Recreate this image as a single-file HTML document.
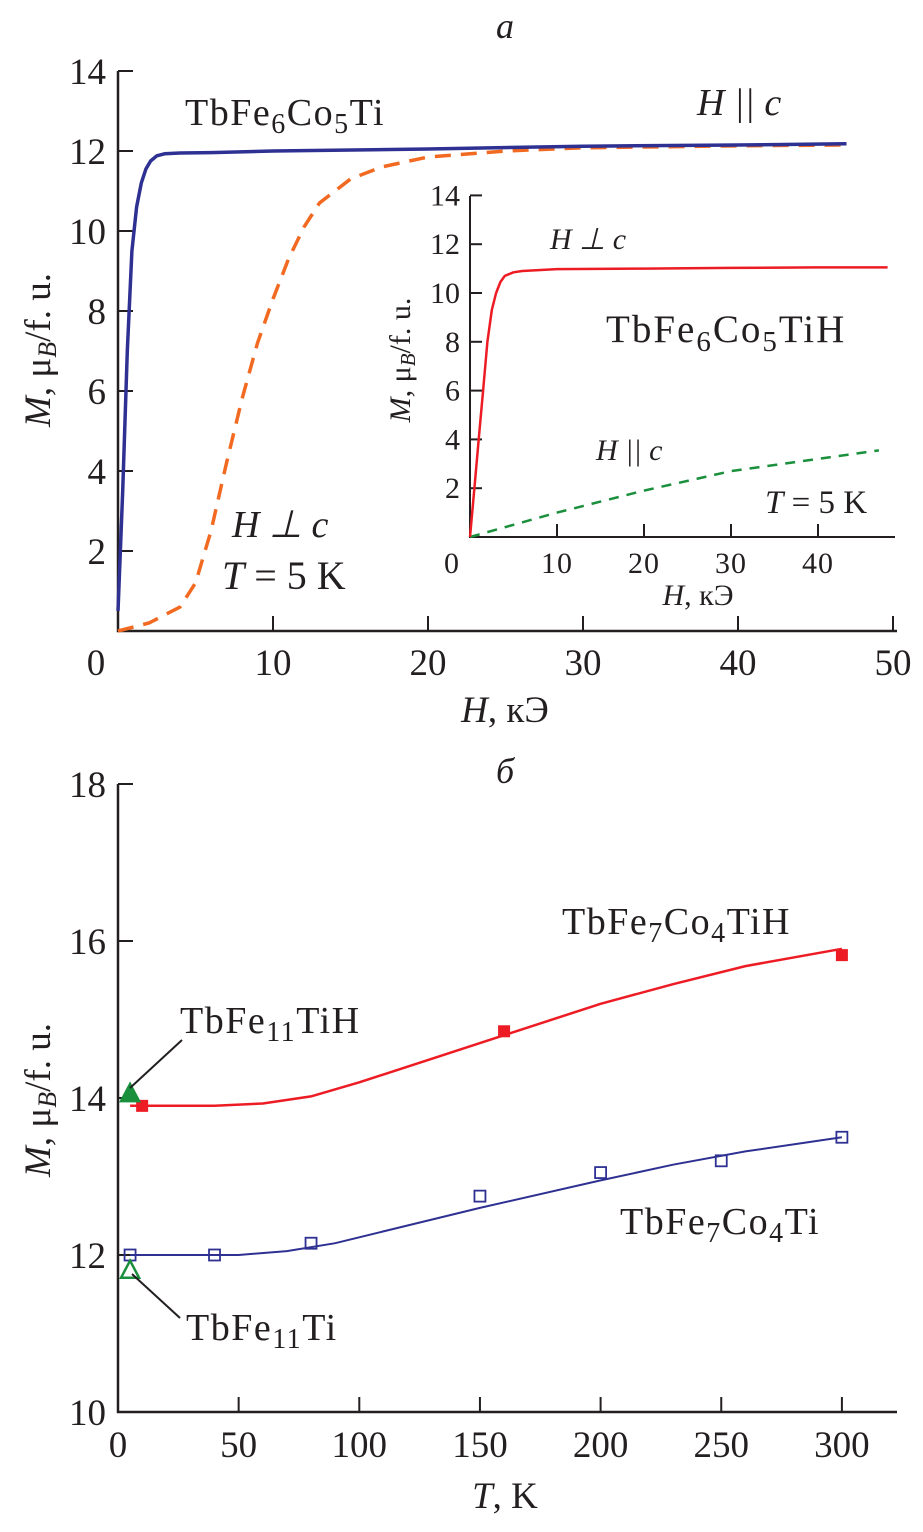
<!DOCTYPE html>
<html><head><meta charset="utf-8"><style>
body{margin:0;background:#fff}
svg text{font-family:"Liberation Serif",serif;fill:#231f20}
</style></head><body>
<svg width="923" height="1527" viewBox="0 0 923 1527">
<g id="top"></g>
<g id="inset"></g>
<g id="bot"></g>
</svg>
<script>
// Panel a data
const aBlueH=[0,0.3,0.6,0.9,1.2,1.5,1.8,2.1,2.5,3,4,6,10,20,30,40,47];
const aBlueM=[0.5,3.5,7,9.5,10.6,11.2,11.55,11.75,11.88,11.93,11.95,11.96,12,12.05,12.12,12.15,12.18];
const aOrangeH=[0,2,4,5,6,7,8,9,10,11,12,13,15,17,20,25,30,40,47];
const aOrangeM=[0,0.2,0.6,1.2,2.5,4.2,5.8,7.2,8.3,9.3,10.1,10.7,11.3,11.6,11.85,12.0,12.08,12.13,12.15];
const aXTicks=[0,10,20,30,40,50];
const aYTicks=[2,4,6,8,10,12,14];
// Inset data
const iRedH=[0,0.5,1,1.5,2,2.5,3,3.5,4,5,6,10,20,30,40,48];
const iRedM=[0,2,4,6,8,9.3,10.0,10.45,10.7,10.85,10.9,10.98,11,11.03,11.05,11.05];
const iGreenH=[0,5,10,15,20,25,30,35,40,47];
const iGreenM=[0,0.5,1,1.45,1.9,2.3,2.7,2.95,3.2,3.55];
const iXTicks=[0,10,20,30,40];
const iYTicks=[2,4,6,8,10,12,14];
// Panel b data
const bRedT=[10,160,300];
const bRedM=[13.9,14.85,15.82];
const bBlueT=[5,40,80,150,200,250,300];
const bBlueM=[12,12,12.15,12.75,13.05,13.2,13.5];
const bRedCurveT=[5,20,40,60,80,100,130,160,200,230,260,300];
const bRedCurveM=[13.9,13.9,13.9,13.93,14.02,14.2,14.5,14.8,15.2,15.45,15.68,15.9];
const bBlueCurveT=[5,20,50,70,90,110,150,200,230,260,300];
const bBlueCurveM=[12,12,12,12.05,12.15,12.3,12.6,12.95,13.15,13.32,13.5];
const bTriFilled=[5,14.05];
const bTriOpen=[5,11.8];
const bXTicks=[0,50,100,150,200,250,300];
const bYTicks=[10,12,14,16,18];

const NS="http://www.w3.org/2000/svg";
function mk(parent,tag,attrs,name,text){const e=document.createElementNS(NS,tag);for(const k in attrs)e.setAttribute(k,attrs[k]);


if(text!==undefined)e.textContent=text;parent.appendChild(e);return e;}
function path(xs,ys,sx,sy){return xs.map((x,i)=>(i?'L':'M')+sx(x).toFixed(1)+','+sy(ys[i]).toFixed(1)).join(' ');}
const LS='letter-spacing';

// Panel a
const T=document.getElementById('top');
const ax=v=>118+v*15.5, ay=v=>631-v*40;
mk(T,'path',{d:`M118,71 V631 H897`,fill:'none',stroke:'#231f20','stroke-width':2.5},'axes-a');
aXTicks.forEach(v=>{if(v>0)mk(T,'line',{x1:ax(v),x2:ax(v),y1:631,y2:616,stroke:'#231f20','stroke-width':2},'x-tick-a');
mk(T,'text',{x:ax(v)-(v?0:22),y:675,'font-size':37,'text-anchor':'middle'},'x-tick-label-a',String(v));});
aYTicks.forEach(v=>{mk(T,'line',{x1:118,x2:133,y1:ay(v),y2:ay(v),stroke:'#231f20','stroke-width':2},'y-tick-a');
mk(T,'text',{x:106,y:ay(v)+13,'font-size':37,'text-anchor':'end'},'y-tick-label-a',String(v));});
mk(T,'path',{d:path(aOrangeH,aOrangeM,ax,ay),fill:'none',stroke:'#f26a21','stroke-width':3.5,'stroke-dasharray':'16,10'},'orange-perp-curve');
mk(T,'path',{d:path(aBlueH,aBlueM,ax,ay),fill:'none',stroke:'#2e3192','stroke-width':3.5,'stroke-linejoin':'round'},'blue-par-curve');
mk(T,'text',{x:505,y:38,'font-size':36,'font-style':'italic','text-anchor':'middle'},'panel-a-label','a');
mk(T,'text',{x:185,y:125,'font-size':38,[LS]:1.5},'label-TbFe6Co5Ti','').innerHTML='TbFe<tspan font-size="28" dy="8">6</tspan><tspan dy="-8">Co</tspan><tspan font-size="28" dy="8">5</tspan><tspan dy="-8">Ti</tspan>';
mk(T,'text',{x:697,y:115,'font-size':38,'font-style':'italic'},'label-h-par-c','H || c');
mk(T,'text',{x:232,y:537,'font-size':38,'font-style':'italic'},'label-h-perp-c','H ⊥ c');
mk(T,'text',{x:222,y:589,'font-size':40},'label-t5k','').innerHTML='<tspan font-style="italic">T</tspan> = 5 K';
mk(T,'text',{x:505,y:722,'font-size':37,'text-anchor':'middle'},'x-axis-title-a','').innerHTML='<tspan font-style="italic">H</tspan>, кЭ';
mk(T,'text',{transform:'translate(50,350) rotate(-90)','font-size':37,'text-anchor':'middle'},'y-axis-title-a','').innerHTML='<tspan font-style="italic">M</tspan>, μ<tspan font-size="26" font-style="italic" dy="6">B</tspan><tspan dy="-6">/f. u.</tspan>';

// Inset
const I=document.getElementById('inset');
const ix=v=>470+v*8.7, iy=v=>537-v*24.4;
mk(I,'path',{d:`M470,196 V537 H895`,fill:'none',stroke:'#231f20','stroke-width':2},'axes-inset');
iXTicks.forEach(v=>{if(v>0)mk(I,'line',{x1:ix(v),x2:ix(v),y1:537,y2:524,stroke:'#231f20','stroke-width':2},'x-tick-inset');
mk(I,'text',{x:ix(v)-(v?0:18),y:573,'font-size':30,'text-anchor':'middle',[LS]:1},'x-tick-label-inset',String(v));});
iYTicks.forEach(v=>{mk(I,'line',{x1:470,x2:482,y1:iy(v),y2:iy(v),stroke:'#231f20','stroke-width':2},'y-tick-inset');
mk(I,'text',{x:460,y:iy(v)+10,'font-size':30,'text-anchor':'end'},'y-tick-label-inset',String(v));});
mk(I,'path',{d:path(iGreenH,iGreenM,ix,iy),fill:'none',stroke:'#1a8f3c','stroke-width':2.5,'stroke-dasharray':'10,8'},'green-par-curve-inset');
mk(I,'path',{d:path(iRedH,iRedM,ix,iy),fill:'none',stroke:'#ed1c24','stroke-width':2.5,'stroke-linejoin':'round'},'red-perp-curve-inset');
mk(I,'text',{x:550,y:249,'font-size':30,'font-style':'italic'},'label-inset-perp','H ⊥ c');
mk(I,'text',{x:596,y:460,'font-size':30,'font-style':'italic'},'label-inset-par','H || c');
mk(I,'text',{x:765,y:513,'font-size':33},'label-inset-t5k','').innerHTML='<tspan font-style="italic">T</tspan> = 5 K';
mk(I,'text',{x:606,y:342,'font-size':39,[LS]:2},'label-TbFe6Co5TiH','').innerHTML='TbFe<tspan font-size="29" dy="9">6</tspan><tspan dy="-9">Co</tspan><tspan font-size="29" dy="9">5</tspan><tspan dy="-9">TiH</tspan>';
mk(I,'text',{x:698,y:605,'font-size':30,'text-anchor':'middle'},'x-axis-title-inset','').innerHTML='<tspan font-style="italic">H</tspan>, кЭ';
mk(I,'text',{transform:'translate(410,360) rotate(-90)','font-size':30,'text-anchor':'middle'},'y-axis-title-inset','').innerHTML='<tspan font-style="italic">M</tspan>, μ<tspan font-size="21" font-style="italic" dy="5">B</tspan><tspan dy="-5">/f. u.</tspan>';

// Panel b
const B=document.getElementById('bot');
const bx=v=>118+v*2.413, by=v=>1412-(v-10)*78.5;
mk(B,'path',{d:`M118,784 V1412 H897`,fill:'none',stroke:'#231f20','stroke-width':2.5},'axes-b');
bXTicks.forEach(v=>{if(v>0)mk(B,'line',{x1:bx(v),x2:bx(v),y1:1412,y2:1397,stroke:'#231f20','stroke-width':2},'x-tick-b');
mk(B,'text',{x:bx(v),y:1457,'font-size':37,'text-anchor':'middle'},'x-tick-label-b',String(v));});
bYTicks.forEach(v=>{if(v>10)mk(B,'line',{x1:118,x2:133,y1:by(v),y2:by(v),stroke:'#231f20','stroke-width':2},'y-tick-b');
mk(B,'text',{x:106,y:by(v)+13,'font-size':37,'text-anchor':'end'},'y-tick-label-b',String(v));});
mk(B,'path',{d:path(bRedCurveT,bRedCurveM,bx,by),fill:'none',stroke:'#ed1c24','stroke-width':2.5},'red-fit-curve');
mk(B,'path',{d:path(bBlueCurveT,bBlueCurveM,bx,by),fill:'none',stroke:'#2e3192','stroke-width':2},'blue-fit-curve');
bRedT.forEach((t,i)=>mk(B,'rect',{x:bx(t)-6,y:by(bRedM[i])-6,width:12,height:12,fill:'#ed1c24'},'red-point'));
bBlueT.forEach((t,i)=>mk(B,'rect',{x:bx(t)-5.5,y:by(bBlueM[i])-5.5,width:11,height:11,fill:'none',stroke:'#2e3192','stroke-width':1.8},'blue-point'));
function tri(p,fill,name){const x=bx(p[0]),y=by(p[1]);mk(B,'polygon',{points:`${x},${y-10} ${x-9},${y+7} ${x+9},${y+7}`,fill:fill?'#1a8f3c':'none',stroke:'#1a8f3c','stroke-width':2.5},name);}
tri(bTriFilled,true,'green-triangle-filled');tri(bTriOpen,false,'green-triangle-open');
mk(B,'line',{x1:182,x2:130,y1:1040,y2:1088,stroke:'#231f20','stroke-width':2},'leader-TbFe11TiH');
mk(B,'line',{x1:180,x2:132,y1:1318,y2:1274,stroke:'#231f20','stroke-width':2},'leader-TbFe11Ti');
mk(B,'text',{x:505,y:783,'font-size':36,'font-style':'italic','text-anchor':'middle'},'panel-b-label','б');
mk(B,'text',{x:562,y:934,'font-size':38,[LS]:1.5},'label-TbFe7Co4TiH','').innerHTML='TbFe<tspan font-size="28" dy="8">7</tspan><tspan dy="-8">Co</tspan><tspan font-size="28" dy="8">4</tspan><tspan dy="-8">TiH</tspan>';
mk(B,'text',{x:620,y:1234,'font-size':38,[LS]:1.5},'label-TbFe7Co4Ti','').innerHTML='TbFe<tspan font-size="28" dy="8">7</tspan><tspan dy="-8">Co</tspan><tspan font-size="28" dy="8">4</tspan><tspan dy="-8">Ti</tspan>';
mk(B,'text',{x:180,y:1033,'font-size':38,[LS]:1.5},'label-TbFe11TiH','').innerHTML='TbFe<tspan font-size="28" dy="8">11</tspan><tspan dy="-8">TiH</tspan>';
mk(B,'text',{x:186,y:1340,'font-size':38,[LS]:1.5},'label-TbFe11Ti','').innerHTML='TbFe<tspan font-size="28" dy="8">11</tspan><tspan dy="-8">Ti</tspan>';
mk(B,'text',{x:505,y:1508,'font-size':37,'text-anchor':'middle'},'x-axis-title-b','').innerHTML='<tspan font-style="italic">T</tspan>, K';
mk(B,'text',{transform:'translate(50,1100) rotate(-90)','font-size':37,'text-anchor':'middle'},'y-axis-title-b','').innerHTML='<tspan font-style="italic">M</tspan>, μ<tspan font-size="26" font-style="italic" dy="6">B</tspan><tspan dy="-6">/f. u.</tspan>';
</script>
</body></html>
